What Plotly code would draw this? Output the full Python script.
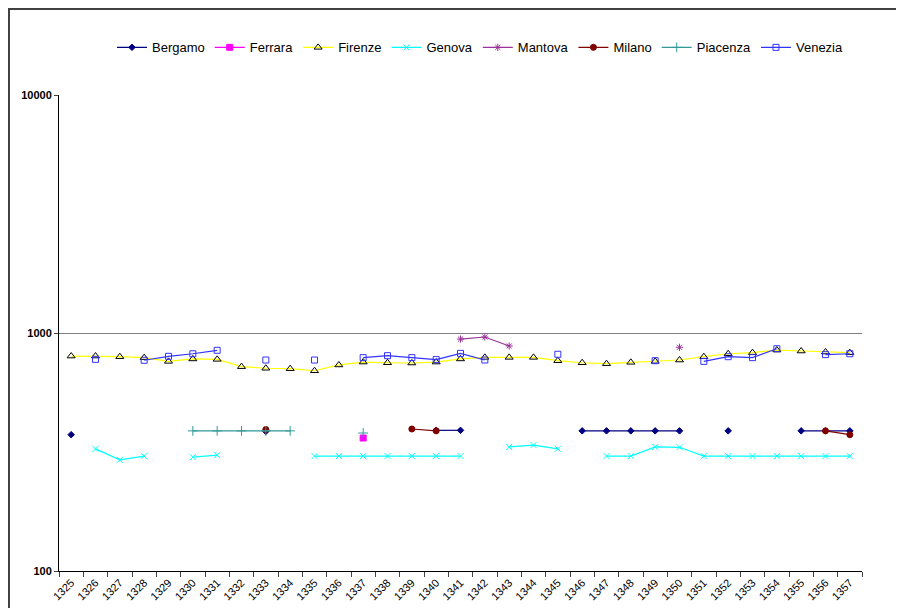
import plotly.graph_objects as go

years = [str(y) for y in range(1325, 1358)]
N = None

bergamo  = [374,N,N,N,N,N,N,N,386,N,N,N,N,N,N,390,390,N,N,N,N,388,388,388,388,388,N,388,N,N,388,388,388]
ferrara  = [N,N,N,N,N,N,N,N,N,N,N,N,362,N,N,N,N,N,N,N,N,N,N,N,N,N,N,N,N,N,N,N,N]
firenze  = [800,800,795,788,760,778,775,722,711,708,694,734,755,750,748,755,778,790,790,790,765,750,743,753,760,770,795,818,827,848,840,832,827]
genova   = [N,326,293,304,N,301,307,N,N,N,304,304,304,304,304,304,304,N,332,338,326,N,304,304,332,331,304,304,304,304,304,304,304]
mantova  = [N,N,N,N,N,N,N,N,N,N,N,N,N,N,N,N,943,962,882,N,N,N,N,N,N,871,N,N,N,N,N,N,N]
milano   = [N,N,N,N,N,N,N,N,393,N,N,N,N,N,395,388,N,N,N,N,N,N,N,N,N,N,N,N,N,N,N,388,374]
piacenza = [N,N,N,N,N,388,388,388,388,388,N,N,380,N,N,N,N,N,N,N,N,N,N,N,N,N,N,N,N,N,N,N,N]
venezia  = [N,775,N,768,798,818,846,N,770,N,770,N,788,803,788,773,821,770,N,N,814,N,N,N,765,N,760,795,788,859,N,811,818]

series = [
    ("Bergamo", bergamo, "#000080", "diamond", 5, "#000080"),
    ("Ferrara", ferrara, "#FF00FF", "square", 6, "#FF00FF"),
    ("Firenze", firenze, "#FFFF00", "triangle-up-open", 7, "#000000"),
    ("Genova", genova, "#00FFFF", "x-thin-open", 6, "#00FFFF"),
    ("Mantova", mantova, "#993399", "asterisk-open", 6, "#993399"),
    ("Milano", milano, "#800000", "circle", 6, "#800000"),
    ("Piacenza", piacenza, "#339999", "cross-thin-open", 7, "#339999"),
    ("Venezia", venezia, "#3333FF", "square-open", 6, "#3333FF"),
]

fig = go.Figure()
for name, vals, col, sym, sz, mcol in series:
    fig.add_trace(go.Scatter(
        x=years, y=vals, name=name, mode="lines+markers",
        line=dict(color=col, width=1.2),
        marker=dict(symbol=sym, size=sz, color=mcol, line=dict(color=mcol, width=1)),
        connectgaps=False,
    ))

fig.update_layout(
    width=904, height=608,
    margin=dict(l=51, r=50, t=87, b=45),
    paper_bgcolor="white", plot_bgcolor="white",
    font=dict(family="Liberation Sans, Arial", color="black"),
    showlegend=True,
    legend=dict(orientation="h", x=0.066, y=1.10, xanchor="left", yanchor="middle",
                font=dict(size=13), itemwidth=30, tracegroupgap=0),
    xaxis=dict(type="category", showline=True, linecolor="black", linewidth=1,
               ticks="outside", ticklen=5, tickcolor="#444", tickson="boundaries",
               tickangle=-45, tickfont=dict(size=11, family="Liberation Sans, Arial"),
               showgrid=False, zeroline=False, range=[-0.5, 32.5]),
    yaxis=dict(type="log", range=[2, 4], tickvals=[100, 1000, 10000],
               ticktext=["<b>100</b>", "<b>1000</b>", "<b>10000</b>"],
               tickfont=dict(size=11, family="Liberation Sans, Arial"),
               showline=True, linecolor="black", linewidth=1,
               ticks="outside", ticklen=4, tickcolor="#444",
               showgrid=True, gridcolor="#808080", gridwidth=1, zeroline=False),
    shapes=[dict(type="rect", xref="paper", yref="paper",
                 x0=-0.0623, x1=1.2, y0=-0.2, y1=1.1807,
                 line=dict(color="#404040", width=2), layer="below")],
)

fig.write_html("out.html")
